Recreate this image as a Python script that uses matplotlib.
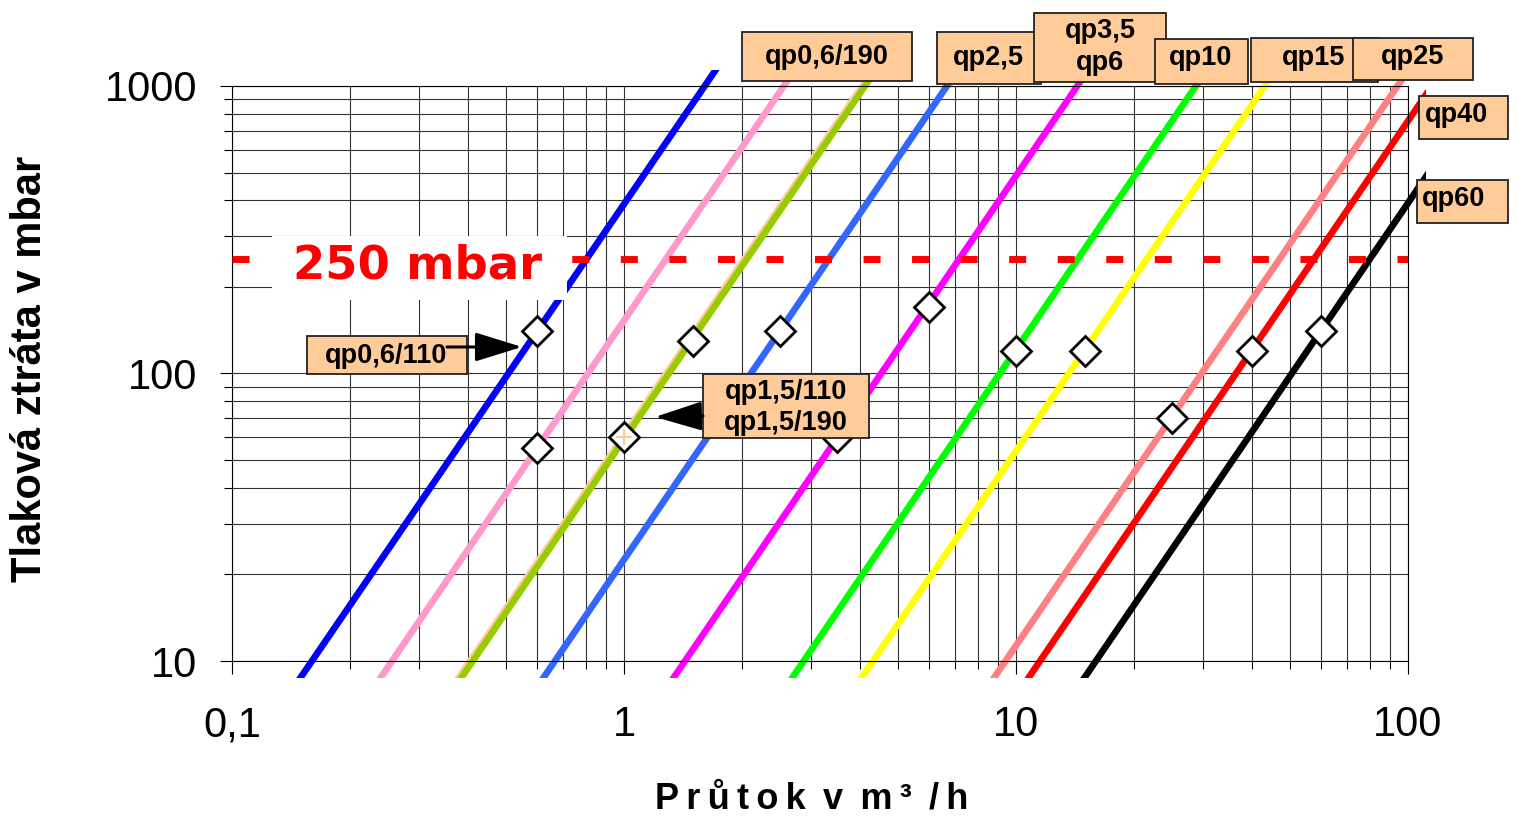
import matplotlib
matplotlib.use("Agg")
import matplotlib.pyplot as plt
from matplotlib.patches import Rectangle
from matplotlib.ticker import NullFormatter

# =====================================
# Data
# =====================================

# one straight (log-log) characteristic per meter, given by its two end points
meter_labels = ["qp0,6/110", "qp0,6/190", "qp1,5/110", "qp1,5/190", "qp2,5",
                "qp3,5/qp6", "qp10", "qp15", "qp25", "qp40", "qp60"]
flow_lo = [0.143, 0.229, 0.362, 0.368, 0.596, 1.28, 2.57, 3.86, 8.41, 10.3, 14.3]
flow_hi = [1.76, 2.80, 4.44, 4.51, 7.30, 15.7, 31.5, 47.2, 103, 126, 175]
dp_ends = [8, 1200]

# nominal points (diamonds)
marker_flow = [0.6, 0.6, 1.0, 1.5, 2.5, 3.5, 6, 10, 15, 25, 40, 60]
marker_dp = [140, 55, 60, 130, 140, 60, 170, 120, 120, 70, 120, 140]

dp_limit = 250

x_ticks = [0.1, 1, 10, 100]
x_ticklabels = ["0,1", "1", "10", "100"]
y_ticks = [10, 100, 1000]
y_ticklabels = ["10", "100", "1000"]

# =====================================
# Styles
# =====================================

line_colors = ["#0000FF", "#FF99CC", "#FFCC99", "#99CC00", "#3366FF",
               "#FF00FF", "#00FF00", "#FFFF00", "#FF8080", "#FF0000", "#000000"]
box_color = "#FFCC99"

plt.rcParams["font.family"] = ["Liberation Sans", "DejaVu Sans"]

W, H = 1518, 821


def fx(px):
    return px / W


def fy(py):
    return 1 - py / H


fig = plt.figure(figsize=(W / 100, H / 100), dpi=100)
ax = fig.add_axes([fx(232), fy(661), fx(1408) - fx(232), fy(86) - fy(661)])

ax.set_xscale("log")
ax.set_yscale("log")
ax.set_xlim(0.1, 100)
ax.set_ylim(10, 1000)

# =====================================
# Grid / ticks
# =====================================

ax.set_axisbelow(True)
ax.grid(True, which="both", color="#333333", lw=0.8)

ax.set_xticks(x_ticks, x_ticklabels)
ax.set_yticks(y_ticks, y_ticklabels)
ax.xaxis.set_minor_formatter(NullFormatter())
ax.yaxis.set_minor_formatter(NullFormatter())

ax.tick_params(which="major", direction="out", length=9, width=0.8, labelsize=30)
ax.tick_params(which="minor", direction="out", length=5.8, width=0.8)
ax.tick_params(axis="x", which="major", pad=23)
ax.tick_params(axis="y", which="major", pad=16)

for s in ax.spines.values():
    s.set_linewidth(0.8)

# =====================================
# Characteristic lines
# =====================================

clip = Rectangle((-0.05, -0.0296), 1.0653, 1.0574, transform=ax.transAxes)

for i in range(len(flow_lo)):
    ln, = ax.plot([flow_lo[i], flow_hi[i]], dp_ends, color=line_colors[i],
                  lw=4.8, solid_capstyle="butt", zorder=2)
    ln.set_clip_path(clip)

# 250 mbar limit
ax.axhline(dp_limit, color="#FF0000", lw=5, linestyle=(0, (2.45, 4.54)), zorder=3)

ax.add_patch(Rectangle((fx(272), fy(300)), fx(567) - fx(272), fy(236) - fy(300),
                       transform=fig.transFigure, facecolor="white",
                       edgecolor="none", zorder=5, clip_on=False))
ax.text(fx(417), fy(266), "250 mbar", transform=fig.transFigure,
        ha="center", va="center", color="#FF0000", fontsize=33.5,
        fontweight="bold", family="DejaVu Sans", zorder=5.5)

# nominal points
ax.plot(marker_flow, marker_dp, ls="none", marker="D", ms=15.5,
        mfc="white", mec="black", mew=2, zorder=4, clip_on=False)
ax.plot(marker_flow[2], marker_dp[2], ls="none", marker="+", ms=11,
        mec=box_color, mew=1.6, zorder=4.5)

# =====================================
# Label boxes
# =====================================

boxes = [
    ("qp0,6/190", (742, 32, 912, 81), (827, 57)),
    ("qp2,5", (937, 32, 1041, 84), (988, 58)),
    ("qp3,5\nqp6", (1034, 13, 1166, 82), (1100, 47)),
    ("qp10", (1155, 39, 1248, 84), (1201, 58)),
    ("qp15", (1251, 38, 1378, 82), (1314, 58)),
    ("qp25", (1353, 38, 1473, 80), (1413, 57)),
    ("qp40", (1419, 96, 1508, 139), (1456, 115)),
    ("qp60", (1417, 180, 1508, 223), (1454, 199)),
    ("qp0,6/110", (307, 336, 467, 374), (386, 356)),
    ("qp1,5/110\nqp1,5/190", (703, 374, 869, 438), (786, 407)),
]

z = 6
for text, (x0, y0, x1, y1), (tx, ty) in boxes:
    ax.add_patch(Rectangle((fx(x0), fy(y1)), fx(x1) - fx(x0), fy(y0) - fy(y1),
                           transform=fig.transFigure, facecolor=box_color,
                           edgecolor="#222222", lw=1.3, zorder=z, clip_on=False))
    ax.text(fx(tx), fy(ty), text, transform=fig.transFigure, ha="center",
            va="center", fontsize=19.5, fontweight="bold", linespacing=1.25,
            zorder=z + 0.5)
    z += 1

arrow = dict(arrowstyle="-|>,head_length=1.45,head_width=0.45",
             mutation_scale=20, color="black", lw=2.2, shrinkA=0, shrinkB=0)
ax.annotate("", xy=(0.549, 123.7), xycoords="data",
            xytext=(fx(447), fy(347)), textcoords="figure fraction",
            arrowprops=arrow, zorder=20)
ax.annotate("", xy=(1.2, 70.6), xycoords="data",
            xytext=(fx(703), fy(416)), textcoords="figure fraction",
            arrowprops=arrow, zorder=20)

# =====================================
# Axis titles
# =====================================

fig.text(fx(812), fy(808), "P\u2009r\u2009ů\u2009t\u2009o\u2009k\u2009 v\u2009 m\u2009³\u2009 /\u2009h",
         ha="center", va="baseline", fontsize=26, fontweight="bold")
fig.text(fx(30), fy(369), "Tlaková ztráta v mbar", rotation=90,
         ha="center", va="center", fontsize=30, fontweight="bold")

fig.savefig("out.png", dpi=100)
